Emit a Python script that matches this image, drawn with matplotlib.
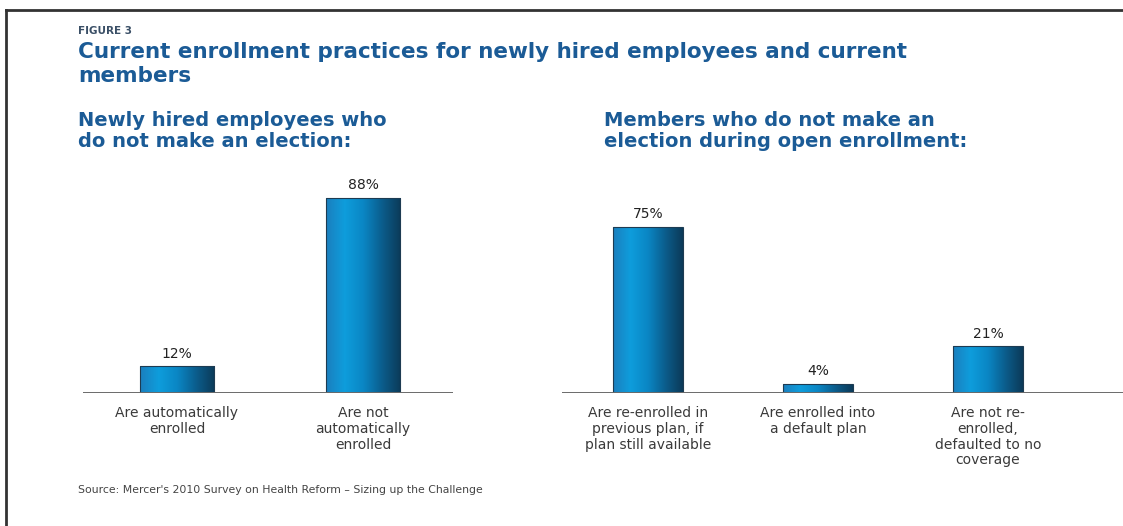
import numpy as np
import matplotlib.pyplot as plt
from matplotlib.colors import LinearSegmentedColormap

# newly hired employees who make no election
new_hire_labels = ["Are automatically\nenrolled", "Are not\nautomatically\nenrolled"]
new_hire_pct = [12, 88]

# members who make no election during open enrollment
member_labels = ["Are re-enrolled in\nprevious plan, if\nplan still available",
                 "Are enrolled into\na default plan",
                 "Are not re-\nenrolled,\ndefaulted to no\ncoverage"]
member_pct = [75, 4, 21]

W, H = 1123, 526
TITLE_BLUE = "#1b5b96"
TEXT_GREY = "#3a3a3a"

bar_cmap = LinearSegmentedColormap.from_list(
    "barfade", ["#1b7fbe", "#0e9ddc", "#0a86c4", "#0b5d8c", "#0c3a58"])
grad = np.linspace(0, 1, 256).reshape(1, -1)


def px(x, y):
    return x / W, 1 - y / H


def draw_panel(ax, labels, values, width):
    xs = np.arange(len(values))
    bars = ax.bar(xs, values, width=width, color="none",
                  edgecolor="#1d3b52", linewidth=0.8, zorder=3)
    for b in bars:
        x0, y0 = b.get_x(), b.get_y()
        im = ax.imshow(grad, cmap=bar_cmap, aspect="auto", zorder=2,
                       extent=[x0, x0 + b.get_width(), y0, y0 + b.get_height()])
        im.set_clip_path(b)
        ax.text(b.get_x() + b.get_width() / 2, b.get_height() + 2.6,
                f"{b.get_height():.0f}%", ha="center", va="bottom",
                fontsize=10, color="#222222")
    for x, lab in zip(xs, labels):
        ax.text(x, -6, lab, ha="center", va="top", fontsize=10,
                color=TEXT_GREY, linespacing=1.15)
    ax.axhline(0, color="#6a6a6a", linewidth=1.4, zorder=4)
    ax.set_ylim(0, 100)
    ax.axis("off")


fig = plt.figure(figsize=(W / 100, H / 100), dpi=100)

# outer frame: top and left rules only
fig.add_artist(plt.Line2D([6 / W, 1], [1 - 10 / H] * 2, transform=fig.transFigure,
                          color="#333333", linewidth=2))
fig.add_artist(plt.Line2D([6 / W] * 2, [0, 1 - 10 / H], transform=fig.transFigure,
                          color="#333333", linewidth=2))

fig.text(*px(78, 31), "FIGURE 3", fontsize=7.5, fontweight="bold",
         color="#3a4f66", va="center")
fig.text(*px(78, 52), "Current enrollment practices for newly hired employees and current",
         fontsize=15.5, fontweight="bold", color=TITLE_BLUE, va="center")
fig.text(*px(78, 76), "members", fontsize=15.5, fontweight="bold",
         color=TITLE_BLUE, va="center")

fig.text(*px(78, 131), "Newly hired employees who\ndo not make an election:",
         fontsize=14, fontweight="bold", color=TITLE_BLUE, va="center",
         linespacing=1.1)
fig.text(*px(604, 131), "Members who do not make an\nelection during open enrollment:",
         fontsize=14, fontweight="bold", color=TITLE_BLUE, va="center",
         linespacing=1.1)

base = 1 - 393 / H
top = 1 - (393 - 221.6) / H

ax1 = fig.add_axes([83 / W, base, (453 - 83) / W, top - base])
draw_panel(ax1, new_hire_labels, new_hire_pct, 0.40)
ax1.set_xlim(-0.505, 1.484)

ax2 = fig.add_axes([562 / W, base, (W - 562) / W, top - base])
draw_panel(ax2, member_labels, member_pct, 0.41)
ax2.set_xlim(-0.506, 2.794)

fig.text(*px(78, 490), "Source: Mercer's 2010 Survey on Health Reform \u2013 Sizing up the Challenge",
         fontsize=7.8, color="#444444", va="center")

fig.savefig("out.png", dpi=100)
